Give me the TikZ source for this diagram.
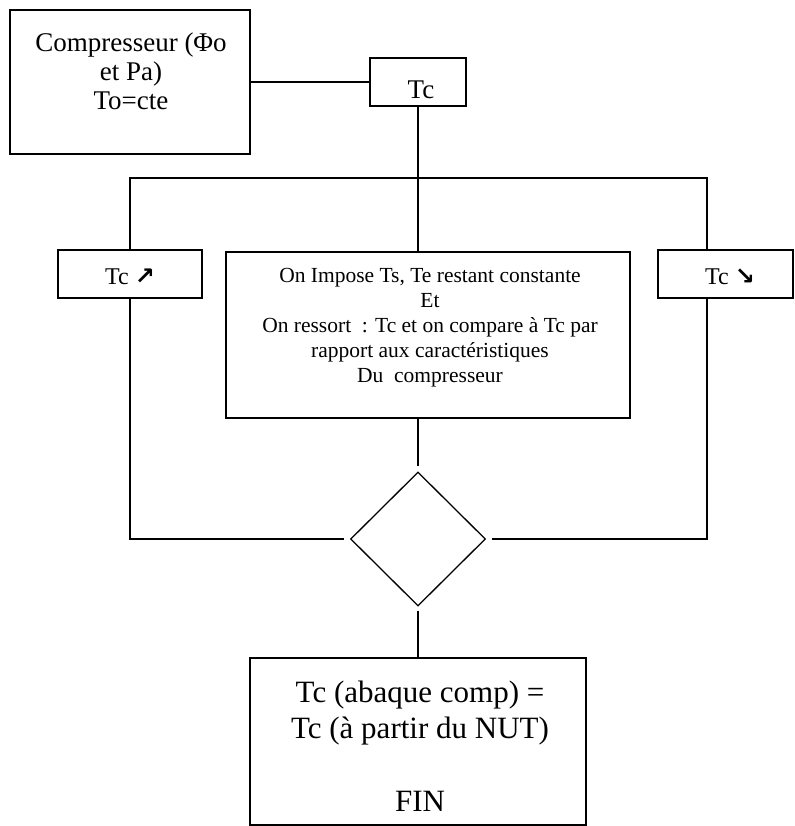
\documentclass[tikz,border=0pt]{standalone}
\usepackage{fontspec}
\setmainfont{Liberation Serif}
\newfontfamily\symfont{DejaVu Sans}
\usetikzlibrary{shapes.geometric}
\begin{document}
\begin{tikzpicture}[x=1pt,y=-1pt,
  box/.style={draw, line width=1.3pt, rectangle, inner sep=0pt},
  conn/.style={line width=1.3pt},
  txt/.style={inner sep=0pt, align=center}]
\useasboundingbox (0,0) rectangle (794,826);
% boxes
\node[box, minimum width=240, minimum height=144] (comp) at (130,82) {};
\node[box, minimum width=96, minimum height=48] (tc) at (418,82) {};
\node[box, minimum width=144, minimum height=48] (up) at (130,274) {};
\node[box, minimum width=404, minimum height=166] (mid) at (428,335) {};
\node[box, minimum width=135, minimum height=48] (down) at (725.5,274) {};
\node[draw, line width=1.3pt, diamond, aspect=1, inner sep=0pt, minimum width=135, minimum height=134] (dia) at (418,539) {};
\node[box, minimum width=336, minimum height=167] (fin) at (418,741.5) {};
% texts
\node[txt, font=\fontsize{27}{29}\selectfont] (comptxt) at (131,71) {Compresseur (Φo\\et Pa)\\To=cte};
\node[txt, font=\fontsize{27}{29}\selectfont] (tctxt) at (421,90) {Tc};
\node[txt, font=\fontsize{24}{26}\selectfont] (uptxt) at (130,277) {Tc {\symfont\bfseries\fontsize{24}{24}\selectfont ↗}};
\node[txt, font=\fontsize{24}{26}\selectfont] (downtxt) at (730,277) {Tc {\symfont\bfseries\fontsize{24}{24}\selectfont ↘}};
\node[txt, font=\fontsize{21.5}{25}\selectfont] (midtxt) at (430,328) {On Impose Ts, Te restant constante\\Et\\On ressort~ : Tc et on compare à Tc par\\rapport aux caractéristiques\\Du~ compresseur};
\node[txt, font=\fontsize{31}{36.5}\selectfont] (fintxt) at (420,746) {Tc (abaque comp) =\\Tc (à partir du NUT)\\[36.5pt]FIN};
% connectors
\coordinate (ltop) at (130,178);
\coordinate (rtop) at (707,178);
\draw[conn] (comp.east) -- (tc.west);
\draw[conn] (tc.south) -- (tc.south |- mid.north);
\draw[conn] (up.north) -- (ltop) -- (rtop) -- (rtop |- down.north);
\draw[conn, shorten >=6pt] (up.south) |- (dia.west);
\draw[conn, shorten >=6pt] (rtop |- down.south) |- (dia.east);
\draw[conn, shorten >=5pt] (tc.south |- mid.south) -- (dia.north);
\draw[conn, shorten <=4pt] (dia.south) -- (fin.north);
\end{tikzpicture}
\end{document}
